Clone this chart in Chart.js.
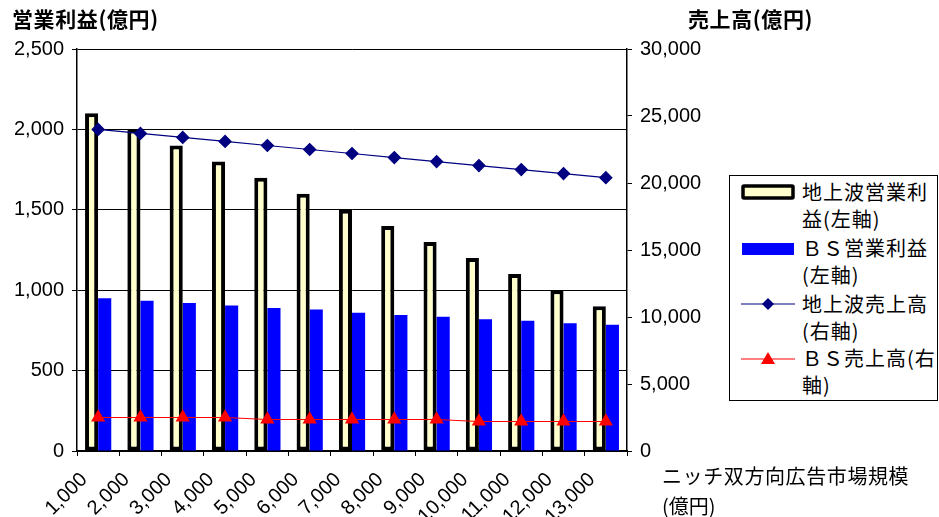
<!DOCTYPE html>
<html>
<head>
<meta charset="utf-8">
<script src="https://cdn.jsdelivr.net/npm/chart.js@4.4.1/dist/chart.umd.min.js"></script>
<style>
  html, body { margin: 0; padding: 0; background: #fff; }
  #wrap { position: relative; width: 939px; height: 517px; overflow: hidden; }
  #c { position: absolute; left: 0; top: 0; }
  .ttl { position: absolute; font-family: "Noto Sans CJK JP", sans-serif; font-size: 20px; color: #000; white-space: nowrap; line-height: 1; }
  .bold { font-weight: 700; font-size: 21px; letter-spacing: 0.6px; }
  #legend { position: absolute; left: 729px; top: 175px; width: 207px; height: 224px; border: 1px solid #000; background: #fff; }
  .lg { position: absolute; left: 72px; font-family: "Noto Sans CJK JP", sans-serif; font-size: 20px; letter-spacing: 1px; line-height: 27px; white-space: nowrap; color: #000; }
  .ic { position: absolute; left: 11px; }
</style>
</head>
<body>
<div id="wrap">
  <canvas id="c" width="939" height="517"></canvas>
  <div class="ttl bold" style="left:12px; top:8px;">営業利益(億円)</div>
  <div class="ttl bold" style="left:688px; top:8px;">売上高(億円)</div>
  <div class="ttl" style="left:662px; top:466px; letter-spacing:0.6px;">ニッチ双方向広告市場規模</div>
  <div class="ttl" style="left:662px; top:496px;">(億円)</div>
  <div id="legend">
    <svg class="ic" style="top:8px" width="54" height="16"><rect x="2" y="2" width="50" height="12" fill="#FFFFCC" stroke="#000" stroke-width="3.5" rx="1"/></svg>
    <div class="lg" style="top:2px;">地上波営業利<br>益(左軸)</div>
    <svg class="ic" style="top:65px" width="54" height="16"><rect x="1" y="2" width="52" height="12" fill="#0000FF"/></svg>
    <div class="lg" style="top:58px;">ＢＳ営業利益<br>(左軸)</div>
    <svg class="ic" style="top:120px" width="54" height="16"><line x1="0" y1="8" x2="54" y2="8" stroke="#000080" stroke-width="1.2"/><polygon points="27,2 33,8 27,14 21,8" fill="#000080"/></svg>
    <div class="lg" style="top:114px;">地上波売上高<br>(右軸)</div>
    <svg class="ic" style="top:174px" width="54" height="16"><line x1="0" y1="9" x2="54" y2="9" stroke="#FF0000" stroke-width="1.2"/><polygon points="27,2 34,14 20,14" fill="#FF0000"/></svg>
    <div class="lg" style="top:168px;">ＢＳ売上高(右<br>軸)</div>
  </div>
</div>
<script>
const categories = ["1,000", "2,000", "3,000", "4,000", "5,000", "6,000", "7,000", "8,000", "9,000", "10,000", "11,000", "12,000", "13,000"];
const groundProfit = [2100, 2000, 1900, 1800, 1700, 1600, 1500, 1400, 1300, 1200, 1100, 1000, 900];
const bsProfit = [950, 935, 920, 905, 890, 880, 860, 845, 835, 820, 810, 795, 785];
const groundSales = [24000, 23700, 23400, 23100, 22800, 22500, 22200, 21900, 21600, 21300, 21000, 20700, 20400];
const bsSales = [2500, 2500, 2500, 2500, 2350, 2350, 2350, 2350, 2350, 2200, 2200, 2200, 2200];

const tickFont = { family: "'Liberation Sans', Arial, sans-serif", size: 20 };

new Chart(document.getElementById("c"), {
  type: "bar",
  data: {
    labels: categories,
    datasets: [
      {
        type: "line", label: "地上波売上高(右軸)", data: groundSales, yAxisID: "y1", order: 0,
        borderColor: "#000080", borderWidth: 1.2, pointStyle: "rectRot", pointRadius: 6,
        pointBackgroundColor: "#000080", pointBorderColor: "#000080", tension: 0,
      },
      {
        type: "line", label: "ＢＳ売上高(右軸)", data: bsSales, yAxisID: "y1", order: 0,
        borderColor: "#FF0000", borderWidth: 1.2, pointStyle: "triangle", pointRadius: 7,
        pointBackgroundColor: "#FF0000", pointBorderColor: "#FF0000", tension: 0,
      },
      {
        label: "地上波営業利益(左軸)", data: groundProfit, yAxisID: "y", order: 1,
        backgroundColor: "#FFFFCC", borderColor: "#000", borderWidth: 4, borderSkipped: false,
        categoryPercentage: 0.62, barPercentage: 1.0,
      },
      {
        label: "ＢＳ営業利益(左軸)", data: bsProfit, yAxisID: "y", order: 1,
        backgroundColor: "#0000FF", borderWidth: 0,
        categoryPercentage: 0.62, barPercentage: 1.0,
      },
    ],
  },
  options: {
    responsive: false,
    animation: false,
    layout: { padding: { top: 49, right: 232, left: 0, bottom: 0 } },
    plugins: { legend: { display: false }, tooltip: { enabled: false } },
    scales: {
      x: {
        offset: true,
        grid: { offset: true, drawOnChartArea: false, color: "#000", tickLength: 5 },
        border: { color: "#000", width: 1.5 },
        ticks: { font: tickFont, color: "#000", minRotation: 45, maxRotation: 45, padding: 12, labelOffset: -14 },
        afterFit: (s) => { s.height = 66; },
      },
      y: {
        position: "left", min: 0, max: 2500,
        ticks: { stepSize: 500, font: tickFont, color: "#000", padding: 8,
          callback: (v) => v.toLocaleString("en-US") },
        grid: { color: "#000", lineWidth: 1, tickLength: 5 },
        border: { color: "#000", width: 1.5 },
        afterFit: (s) => { s.width = 77; },
      },
      y1: {
        position: "right", min: 0, max: 30000,
        ticks: { stepSize: 5000, font: tickFont, color: "#000", padding: 8,
          callback: (v) => v.toLocaleString("en-US") },
        grid: { drawOnChartArea: false, color: "#000", tickLength: 5 },
        border: { color: "#000", width: 1.5 },
        afterFit: (s) => { s.width = 80; },
      },
    },
  },
});
</script>
</body>
</html>
